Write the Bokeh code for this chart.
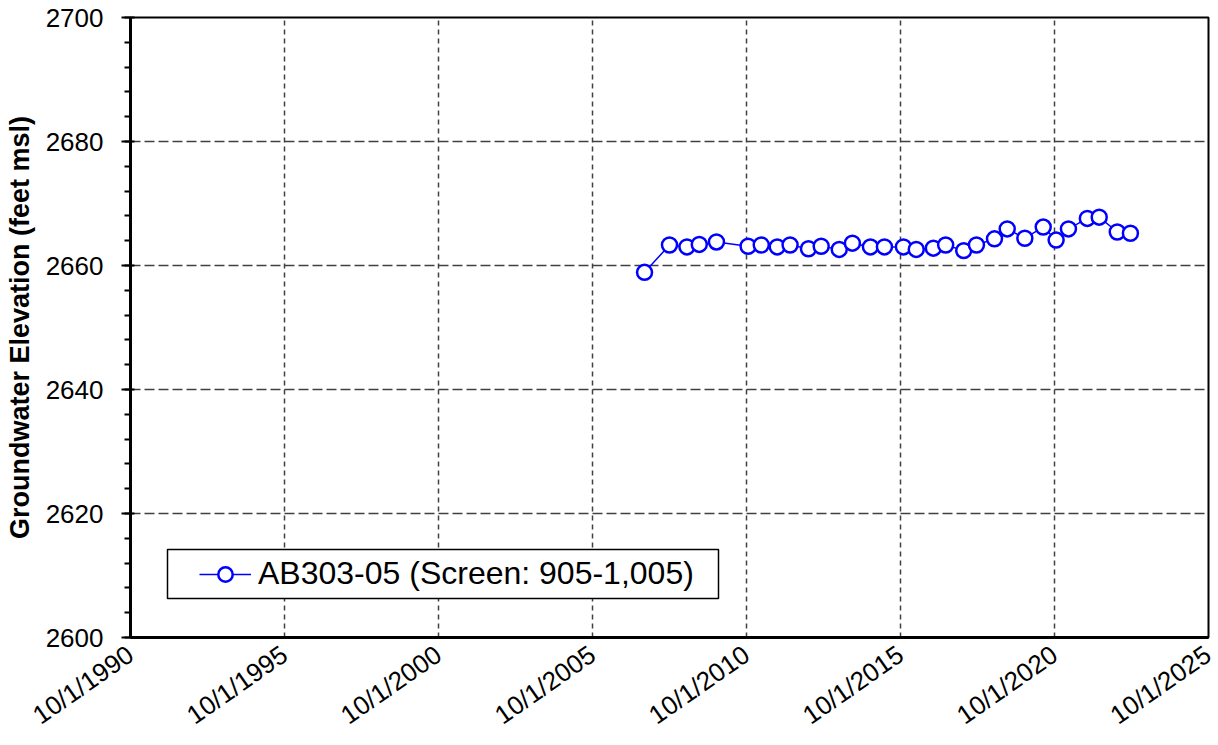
import pandas as pd
from bokeh.plotting import figure
from bokeh.models import FixedTicker, Legend, LegendItem, BoxAnnotation, Node
from bokeh.embed import file_html
from bokeh.resources import INLINE

# ---- data ----
dates = ["2007-06-10", "2008-04-01", "2008-10-25", "2009-03-20", "2009-10-10",
         "2010-10-20", "2011-03-25", "2011-10-01", "2012-03-01", "2012-10-05",
         "2013-03-05", "2013-10-05", "2014-03-10", "2014-10-10", "2015-03-25",
         "2015-11-05", "2016-04-05", "2016-10-25", "2017-03-20", "2017-10-20",
         "2018-03-20", "2018-10-20", "2019-03-20", "2019-10-15", "2020-05-20",
         "2020-10-20", "2021-03-15", "2021-10-25", "2022-03-15", "2022-10-15",
         "2023-03-20"]
elevation = [2658.9, 2663.3, 2663.0, 2663.4, 2663.8,
             2663.1, 2663.3, 2663.0, 2663.3, 2662.7,
             2663.1, 2662.6, 2663.6, 2663.0, 2663.0,
             2663.0, 2662.6, 2662.8, 2663.3, 2662.4,
             2663.3, 2664.3, 2665.9, 2664.4, 2666.2,
             2664.1, 2665.9, 2667.6, 2667.8, 2665.4,
             2665.2]
series_name = "AB303-05 (Screen: 905-1,005)"
x_tick_dates = ["1990-10-01", "1995-10-01", "2000-10-01", "2005-10-01",
                "2010-10-01", "2015-10-01", "2020-10-01", "2025-10-01"]
x_tick_labels = ["10/1/1990", "10/1/1995", "10/1/2000", "10/1/2005",
                 "10/1/2010", "10/1/2015", "10/1/2020", "10/1/2025"]
y_ticks = [2600, 2620, 2640, 2660, 2680, 2700]
y_label = "Groundwater Elevation (feet msl)"

FONT = "Liberation Sans"

x = pd.to_datetime(dates)
tick_ms = [int(pd.Timestamp(d).value // 10**6) for d in x_tick_dates]

p = figure(width=1216, height=745, x_axis_type="datetime",
           x_range=(tick_ms[0], tick_ms[-1]), y_range=(y_ticks[0], y_ticks[-1]),
           output_backend="svg", toolbar_location=None,
           min_border_left=130, min_border_right=8, min_border_top=17,
           min_border_bottom=107)
p.background_fill_color = "white"
p.border_fill_color = "white"
p.outline_line_color = "black"
p.outline_line_width = 2

# x axis
p.xaxis.ticker = FixedTicker(ticks=tick_ms)
p.xaxis.major_label_overrides = {t: lab for t, lab in zip(tick_ms, x_tick_labels)}
p.xaxis.major_label_orientation = 0.61
p.xaxis.major_label_text_font = FONT
p.xaxis.major_label_text_font_size = "26px"
p.xaxis.major_label_text_color = "black"
p.xaxis.major_label_text_baseline = "top"
p.xaxis.major_label_standoff = 14
p.xaxis.axis_line_width = 3
p.xaxis.axis_line_color = "black"
p.xaxis.major_tick_out = 0
p.xaxis.major_tick_in = 0
p.xaxis.minor_tick_out = 0
p.xaxis.minor_tick_in = 0

# y axis
p.yaxis.ticker = FixedTicker(ticks=y_ticks,
                             minor_ticks=list(range(y_ticks[0], y_ticks[-1] + 1, 4)))
p.yaxis.major_label_text_font = FONT
p.yaxis.major_label_text_font_size = "26px"
p.yaxis.major_label_text_color = "black"
p.yaxis.major_label_standoff = 18
p.yaxis.axis_line_width = 3
p.yaxis.axis_line_color = "black"
p.yaxis.major_tick_out = 9
p.yaxis.major_tick_in = 4
p.yaxis.major_tick_line_width = 2
p.yaxis.minor_tick_out = 6
p.yaxis.minor_tick_in = 0
p.yaxis.minor_tick_line_width = 2
p.yaxis.axis_label = y_label
p.yaxis.axis_label_text_font = FONT
p.yaxis.axis_label_text_font_style = "bold"
p.yaxis.axis_label_text_font_size = "27px"
p.yaxis.axis_label_text_color = "black"
p.yaxis.axis_label_standoff = 8

# grids
p.xgrid.grid_line_color = "#404040"
p.xgrid.grid_line_dash = "5 4"
p.xgrid.grid_line_width = 1.5
p.ygrid.grid_line_color = "#404040"
p.ygrid.grid_line_dash = "10 4"
p.ygrid.grid_line_width = 1.5

# data
r_line = p.line(x, elevation, line_color="#0000FF", line_width=1.5)
r_pts = p.scatter(x, elevation, marker="circle", size=15, line_color="#0000FF",
                  line_width=2.5, fill_color="white")

# legend frame
box = BoxAnnotation(left=Node(target="frame", symbol="left", offset=37),
                    right=Node(target="frame", symbol="left", offset=588),
                    top=Node(target="frame", symbol="bottom", offset=-88),
                    bottom=Node(target="frame", symbol="bottom", offset=-39),
                    fill_color="white", fill_alpha=1.0,
                    line_color="black", line_width=1.5, line_alpha=1.0)
p.add_layout(box)

legend = Legend(items=[LegendItem(label=series_name, renderers=[r_line, r_pts])],
                location=(69, 45), padding=0, margin=0,
                border_line_alpha=0, background_fill_alpha=0,
                glyph_width=52, glyph_height=36, label_standoff=7,
                label_text_font=FONT, label_text_font_size="32px",
                label_text_color="black")
p.add_layout(legend)

open("out.html", "w").write(file_html(p, INLINE))
